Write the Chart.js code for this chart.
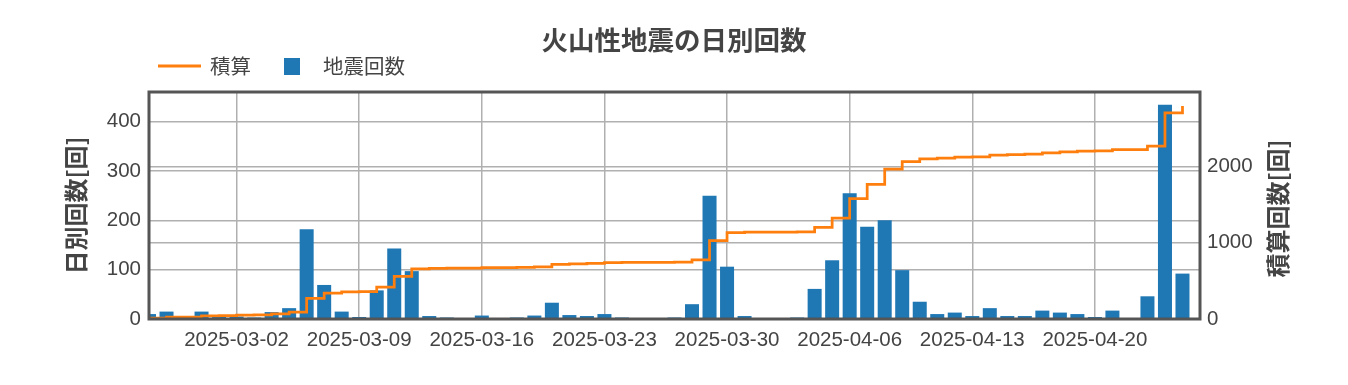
<!DOCTYPE html>
<html><head><meta charset="utf-8">
<script src="https://cdn.jsdelivr.net/npm/chart.js@4.4.1/dist/chart.umd.min.js"></script>
<style>html,body{margin:0;padding:0;background:#fff}</style>
</head><body>
<canvas id="c" width="1348" height="385"></canvas>
<script>
const dates = [
  '2025-02-25','2025-02-26','2025-02-27','2025-02-28',
  '2025-03-01','2025-03-02','2025-03-03','2025-03-04','2025-03-05','2025-03-06','2025-03-07',
  '2025-03-08','2025-03-09','2025-03-10','2025-03-11','2025-03-12','2025-03-13','2025-03-14',
  '2025-03-15','2025-03-16','2025-03-17','2025-03-18','2025-03-19','2025-03-20','2025-03-21',
  '2025-03-22','2025-03-23','2025-03-24','2025-03-25','2025-03-26','2025-03-27','2025-03-28',
  '2025-03-29','2025-03-30','2025-03-31',
  '2025-04-01','2025-04-02','2025-04-03','2025-04-04','2025-04-05','2025-04-06','2025-04-07',
  '2025-04-08','2025-04-09','2025-04-10','2025-04-11','2025-04-12','2025-04-13','2025-04-14',
  '2025-04-15','2025-04-16','2025-04-17','2025-04-18','2025-04-19','2025-04-20','2025-04-21',
  '2025-04-22','2025-04-23','2025-04-24','2025-04-25'
];
const dailyCounts = [
  10, 15, 0, 15,
  5, 5, 3, 14, 22, 182, 69,
  15, 4, 58, 143, 97, 6, 3,
  0, 7, 0, 3, 7, 33, 8,
  6, 10, 3, 0, 0, 3, 30,
  250, 106, 6,
  0, 0, 3, 61, 119, 255, 187,
  200, 99, 35, 10, 13, 6, 22,
  6, 6, 17, 13, 10, 4, 17,
  0, 46, 434, 92
];
const cumulativeCounts = [
  10, 25, 25, 40,
  45, 50, 53, 67, 89, 271, 340,
  355, 359, 417, 560, 657, 663, 666,
  666, 673, 673, 676, 683, 716, 724,
  730, 740, 743, 743, 743, 746, 776,
  1026, 1132, 1138,
  1138, 1138, 1141, 1202, 1321, 1576, 1763,
  1963, 2062, 2097, 2107, 2120, 2126, 2148,
  2154, 2160, 2177, 2190, 2200, 2204, 2221,
  2221, 2267, 2701, 2793
];
const xTickDates = ['2025-03-02','2025-03-09','2025-03-16','2025-03-23','2025-03-30','2025-04-06','2025-04-13','2025-04-20'];
const leftTicks = [0, 100, 200, 300, 400];
const rightTicks = [0, 1000, 2000];
const titleText = '火山性地震の日別回数';
const leftAxisTitle = '日別回数[回]';
const rightAxisTitle = '積算回数[回]';
const seriesLabels = ['積算', '地震回数'];

const FONT_CJK = '"Noto Sans CJK JP", "Noto Sans", sans-serif';
const FONT_NUM = '"Liberation Sans", Arial, sans-serif';
const TEXT = '#444444';
const ORANGE = '#ff7f0e';
const BLUE = '#1f77b4';

const extrasPlugin = {
  id: 'extras',
  afterDatasetsDraw(chart) {
    const {ctx, chartArea: a} = chart;
    ctx.save();
    ctx.strokeStyle = '#555555';
    ctx.lineWidth = 3;
    ctx.strokeRect(a.left, a.top, a.right - a.left, a.bottom - a.top);
    ctx.restore();
  },
  afterDraw(chart) {
    const {ctx, chartArea: a} = chart;
    ctx.save();
    // right axis title, reading bottom to top
    ctx.translate(1278, (a.top + a.bottom) / 2 + 3);
    ctx.rotate(-Math.PI / 2);
    ctx.font = 'bold 24px ' + FONT_CJK;
    ctx.fillStyle = TEXT;
    ctx.textAlign = 'center';
    ctx.textBaseline = 'middle';
    ctx.fillText(rightAxisTitle, 0, 0);
    ctx.restore();
    // legend
    ctx.save();
    ctx.strokeStyle = ORANGE;
    ctx.lineWidth = 3;
    ctx.beginPath();
    ctx.moveTo(158, 66); ctx.lineTo(201, 66);
    ctx.stroke();
    ctx.fillStyle = BLUE;
    ctx.fillRect(284, 58, 16, 17);
    ctx.font = '20.5px ' + FONT_CJK;
    ctx.fillStyle = TEXT;
    ctx.textBaseline = 'middle';
    ctx.textAlign = 'left';
    ctx.fillText(seriesLabels[0], 210, 66);
    ctx.fillText(seriesLabels[1], 323, 66);
    ctx.restore();
  }
};

new Chart(document.getElementById('c'), {
  type: 'bar',
  data: {
    datasets: [
      {
        type: 'line', label: seriesLabels[0],
        data: cumulativeCounts.map((v, i) => ({x: i, y: v})),
        yAxisID: 'y2', borderColor: ORANGE, backgroundColor: ORANGE,
        borderWidth: 2.75, pointRadius: 0, stepped: 'before', fill: false
      },
      {
        type: 'bar', label: seriesLabels[1],
        data: dailyCounts.map((v, i) => ({x: i, y: v})),
        yAxisID: 'y', backgroundColor: BLUE,
        barPercentage: 0.8, categoryPercentage: 1.0, clip: 0
      }
    ]
  },
  options: {
    responsive: false, animation: false,
    layout: {padding: 0},
    plugins: {
      legend: {display: false},
      tooltip: {enabled: false},
      title: {
        display: true, text: titleText, color: TEXT,
        font: {family: FONT_CJK, size: 26.5, weight: 'bold'},
        padding: {top: 24, bottom: 36.2}
      }
    },
    scales: {
      x: {
        type: 'linear', min: 0, max: 60, offset: false,
        grid: {color: '#b0b0b0', lineWidth: 1.5, drawTicks: false, offset: false},
        border: {display: false},
        ticks: {
          font: {family: FONT_NUM, size: 20.5}, color: TEXT, padding: 9,
          maxRotation: 0, autoSkip: false,
          callback: (v) => dates[v]
        },
        afterBuildTicks: (s) => { s.ticks = xTickDates.map(d => ({value: dates.indexOf(d)})); },
        afterFit: (s) => { s.height = 66; }
      },
      y: {
        type: 'linear', position: 'left', min: 0, max: 460,
        grid: {color: '#b0b0b0', lineWidth: 1.5, drawTicks: false},
        border: {display: false},
        ticks: {font: {family: FONT_NUM, size: 20.5}, color: TEXT, padding: 8, callback: (v) => String(v)},
        afterBuildTicks: (s) => { s.ticks = leftTicks.map(v => ({value: v})); },
        afterFit: (s) => { s.width = 149; },
        title: {
          display: true, text: leftAxisTitle, color: TEXT,
          font: {family: FONT_CJK, size: 24, weight: 'bold'},
          padding: {top: 61, bottom: 0}
        }
      },
      y2: {
        type: 'linear', position: 'right', min: 0, max: 2975,
        grid: {color: '#b0b0b0', lineWidth: 1.5, drawTicks: false, drawOnChartArea: true},
        border: {display: false},
        ticks: {font: {family: FONT_NUM, size: 20.5}, color: TEXT, padding: 7, callback: (v) => String(v)},
        afterBuildTicks: (s) => { s.ticks = rightTicks.map(v => ({value: v})); },
        afterFit: (s) => { s.width = 148; }
      }
    }
  },
  plugins: [extrasPlugin]
});
</script>
</body></html>
